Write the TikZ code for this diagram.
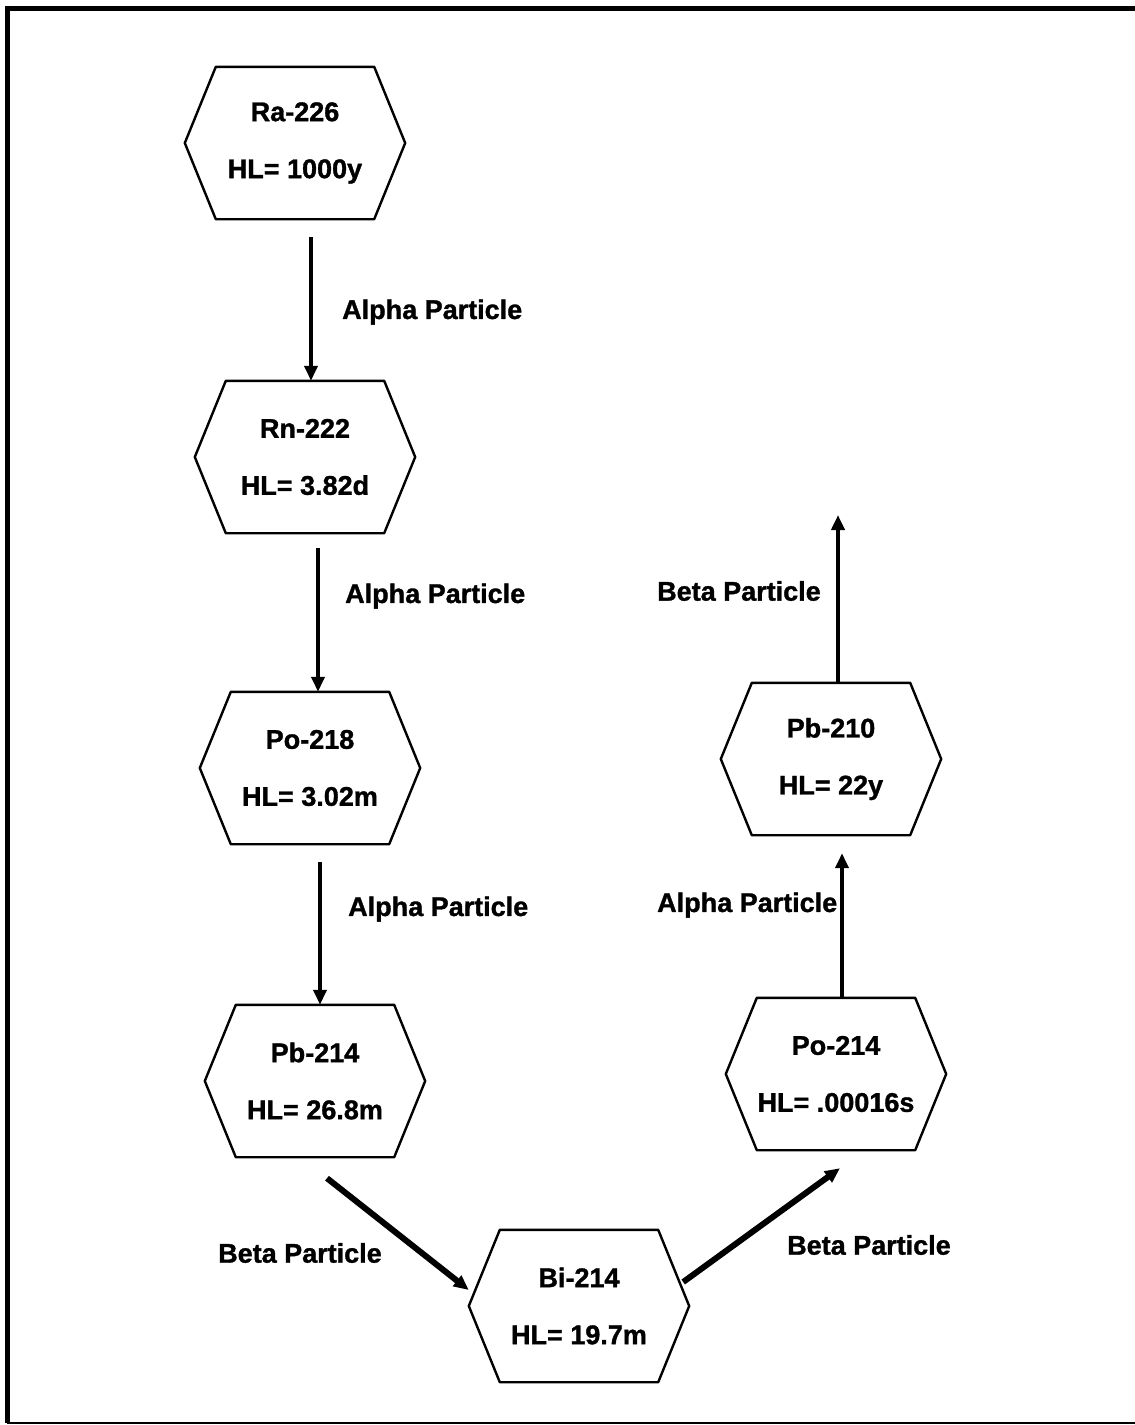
\documentclass[tikz,border=0pt]{standalone}
\usepackage{fontspec}
\setmainfont{Liberation Sans}[BoldFeatures={FakeBold=1.2}]
\usetikzlibrary{arrows.meta}
\begin{document}
\begin{tikzpicture}[x=1pt,y=-1pt,
  hexbox/.style={draw=none,minimum width=220pt,minimum height=152pt,inner sep=0pt,
    align=center,font=\fontsize{27}{57}\selectfont\bfseries},
  hexline/.style={line width=2.4pt,line join=round},
  lbl/.style={inner sep=0pt,anchor=west,font=\fontsize{27}{30}\selectfont\bfseries},
  arr/.style={line width=4.5pt,-{Triangle[length=15pt,width=13pt]}}]
\fill[white] (0,0) rectangle (1135,1425);
\useasboundingbox (0,0) rectangle (1135,1425);
% frame
\draw[line width=5pt] (7,1423) -- (7,8) -- (1135,8);
\draw[line width=2pt] (7,1423) -- (1135,1423);
% nodes
\node[hexbox] (ra) at (295,143) {Ra-226\\HL= 1000y};
\node[hexbox] (rn) at (305,457) {Rn-222\\HL= 3.82d};
\node[hexbox] (poa) at (310,768) {Po-218\\HL= 3.02m};
\node[hexbox] (pba) at (315,1081) {Pb-214\\HL= 26.8m};
\node[hexbox] (bi) at (579,1306) {Bi-214\\HL= 19.7m};
\node[hexbox] (pob) at (836,1074) {Po-214\\HL= .00016s};
\node[hexbox] (pbb) at (831,759) {Pb-210\\HL= 22y};
\foreach \n in {ra,rn,poa,pba,bi,pob,pbb}{
  \draw[hexline] ([xshift=31pt]\n.north west) -- ([xshift=-31pt]\n.north east) -- (\n.east)
    -- ([xshift=-31pt]\n.south east) -- ([xshift=31pt]\n.south west) -- (\n.west) -- cycle;
}
% connectors
\coordinate (top) at (838,515);
\draw[arr] ([xshift=16pt,yshift=-18pt]ra.south) -- ([xshift=6pt]rn.north);
\draw[arr] ([xshift=13pt,yshift=-15pt]rn.south) -- ([xshift=8pt]poa.north);
\draw[arr] ([xshift=10pt,yshift=-18pt]poa.south) -- ([xshift=5pt]pba.north);
\draw[arr,line width=6pt] ([xshift=12pt,yshift=-21pt]pba.south) -- ([yshift=16pt]bi.west);
\draw[arr,line width=6pt] ([xshift=-6pt,yshift=24pt]bi.east) -- ([xshift=4pt,yshift=-18pt]pob.south);
\draw[arr] ([xshift=6pt]pob.north) -- ([xshift=11pt,yshift=-18pt]pbb.south);
\draw[arr] ([xshift=7pt]pbb.north) -- (top);
% labels
\node[lbl] (l1) at (342,312) {Alpha Particle};
\node[lbl] (l2) at (345,596) {Alpha Particle};
\node[lbl] (l3) at (348,909) {Alpha Particle};
\node[lbl] (l4) at (218,1253) {Beta Particle};
\node[lbl] (l5) at (787,1245) {Beta Particle};
\node[lbl] (l6) at (657,905) {Alpha Particle};
\node[lbl] (l7) at (657,591) {Beta Particle};
\end{tikzpicture}
\end{document}
